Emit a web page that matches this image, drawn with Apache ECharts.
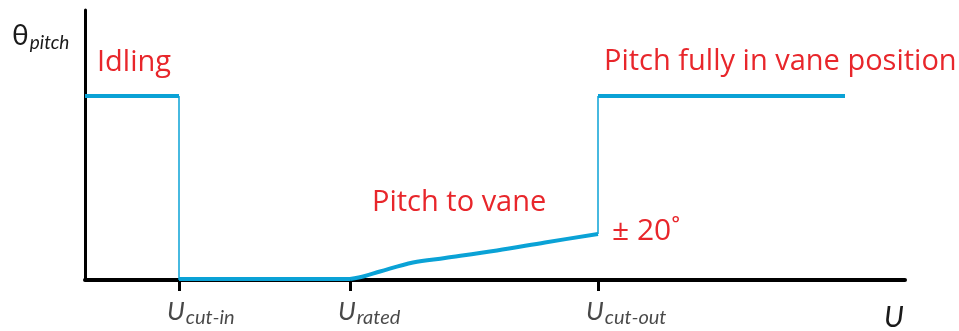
<!DOCTYPE html>
<html>
<head>
<meta charset="utf-8">
<script src="https://cdn.jsdelivr.net/npm/echarts@6/dist/echarts.min.js"></script>
<style>
  html, body { margin: 0; padding: 0; background: #fff; }
  #chart { width: 959px; height: 331px; }
</style>
</head>
<body>
<div id="chart"></div>
<script>
// Wind speed markers on the U axis (schematic units)
const tickNames = ['cut-in', 'rated', 'cut-out'];
const tickValues = [9.4, 26.5, 51.3];

// Pitch angle regimes (schematic units)
const idlingLine = [[0, 18.4], [9.4, 18.4]];
const cutInDrop = [[9.4, 18.4], [9.4, 0]];
const belowRated = [[9.4, 0.1], [26.5, 0.1]];
const pitchToVane = [[26.5, 0.1], [28.0, 0.4], [29.5, 0.85], [32.8, 1.75], [36.0, 2.2], [41.2, 2.95], [46.0, 3.75], [51.3, 4.6]];
const cutOutRise = [[51.3, 4.6], [51.3, 18.4]];
const vaneLine = [[51.3, 18.4], [76.0, 18.4]];

const BLUE = '#0aa2d6';
const RED = '#e8262b';
const INK = '#1a1a1a';
const LABEL_FONT = 'Lato';
const NOTE_FONT = 'Open Sans';

const chart = echarts.init(document.getElementById('chart'), null, { renderer: 'canvas' });

function seg(data, width, smooth) {
  return {
    type: 'line', data: data, symbol: 'none', clip: false, smooth: smooth || false,
    lineStyle: { color: BLUE, width: width }, silent: true, animation: false
  };
}

function note(text, left, top, size) {
  return { type: 'text', left: left, top: top, style: { text: text, fontFamily: NOTE_FONT, fontSize: size, fill: RED } };
}

chart.setOption({
  animation: false,
  grid: { left: 85, right: 54, top: 10, bottom: 51 },
  xAxis: {
    type: 'value', min: 0, max: 82,
    axisLine: { show: true, lineStyle: { color: '#000', width: 4 } },
    axisTick: { show: true, customValues: tickValues, length: 11, lineStyle: { color: '#000', width: 3 } },
    axisLabel: { show: false },
    splitLine: { show: false }
  },
  yAxis: {
    type: 'value', min: 0, max: 27,
    axisLine: { show: true, lineStyle: { color: '#000', width: 3 } },
    axisTick: { show: false }, axisLabel: { show: false }, splitLine: { show: false }
  },
  series: [
    seg(idlingLine, 4),
    seg(cutInDrop, 1.5),
    seg(belowRated, 4),
    seg(pitchToVane, 4, 0.35),
    seg(cutOutRise, 1.5),
    seg(vaneLine, 4),
    {
      type: 'scatter', symbolSize: 0, silent: true,
      data: tickValues.map((v, i) => ({ value: [v, 0], name: tickNames[i] })),
      label: {
        show: true, position: 'bottom', align: 'left', offset: [-12, 11],
        formatter: p => '{u|U}{s|' + p.name + '}',
        rich: {
          u: { fontFamily: LABEL_FONT, fontStyle: 'italic', fontSize: 26, color: INK },
          s: { fontFamily: LABEL_FONT, fontStyle: 'italic', fontSize: 20, color: INK, padding: [12, 0, 0, 1] }
        }
      }
    }
  ],
  graphic: [
    {
      type: 'text', left: 12, top: 22,
      style: {
        text: '{t|θ}{p|pitch}',
        rich: {
          t: { fontFamily: LABEL_FONT, fontSize: 28, fill: INK },
          p: { fontFamily: LABEL_FONT, fontStyle: 'italic', fontSize: 19, fill: INK, padding: [14, 0, 0, 1] }
        }
      }
    },
    {
      type: 'text', left: 884, top: 303,
      style: { text: 'U', fontFamily: LABEL_FONT, fontStyle: 'italic', fontSize: 29, fill: INK }
    },
    note('Idling', 97, 48, 29),
    note('Pitch fully in vane position', 604, 47, 29),
    note('Pitch to vane', 372, 188, 29),
    note('± 20˚', 612, 216, 30)
  ]
});
</script>
</body>
</html>
